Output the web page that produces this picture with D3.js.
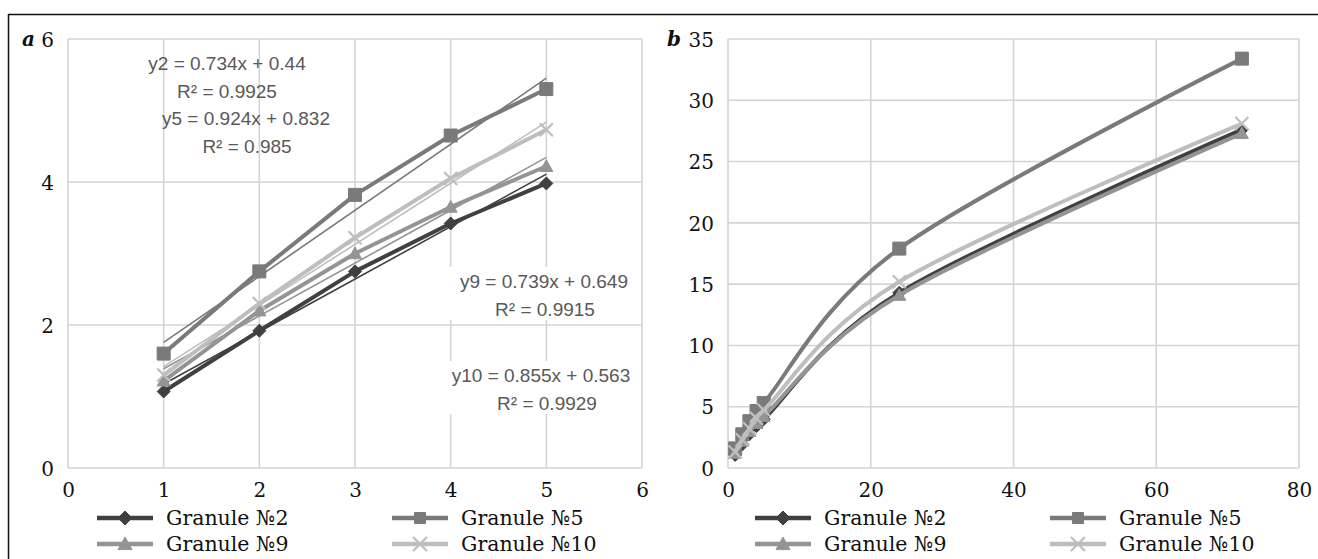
<!DOCTYPE html>
<html>
<head>
<meta charset="utf-8">
<script src="https://cdn.jsdelivr.net/npm/d3@7/dist/d3.min.js"></script>
<style>
body { margin: 0; background: #fff; }
svg { display: block; }
</style>
</head>
<body>
<div id="chart"></div>
<script>
// panel a: first five hours
var hoursA = [1, 2, 3, 4, 5];
var g2A = [1.07, 1.92, 2.75, 3.42, 3.98];
var g5A = [1.6, 2.75, 3.82, 4.65, 5.3];
var g9A = [1.22, 2.2, 3.0, 3.65, 4.22];
var g10A = [1.3, 2.3, 3.22, 4.05, 4.73];

// panel b: whole run
var hoursB = [1, 2, 3, 4, 5, 24, 72];
var g2B = [1.07, 1.92, 2.75, 3.42, 3.98, 14.3, 27.6];
var g5B = [1.6, 2.75, 3.82, 4.65, 5.3, 17.9, 33.4];
var g9B = [1.22, 2.2, 3.0, 3.65, 4.22, 14.1, 27.3];
var g10B = [1.3, 2.3, 3.22, 4.05, 4.73, 15.2, 28.1];

var seriesNames = ["Granule №2", "Granule №5", "Granule №9", "Granule №10"];
var seriesColors = ["#404040", "#7a7a7a", "#949494", "#bebebe"];
var seriesMarkers = ["diamond", "square", "triangle", "cross"];

// linear trend lines of panel a
var trendSlope = [0.734, 0.924, 0.739, 0.855];
var trendIntercept = [0.44, 0.832, 0.649, 0.563];
var trendEq = ["y2 = 0.734x + 0.44", "y5 = 0.924x + 0.832", "y9 = 0.739x + 0.649", "y10 = 0.855x + 0.563"];
var trendR2 = ["R² = 0.9925", "R² = 0.985", "R² = 0.9915", "R² = 0.9929"];

var ticksAx = [0, 1, 2, 3, 4, 5, 6];
var ticksAy = [0, 2, 4, 6];
var ticksBx = [0, 20, 40, 60, 80];
var ticksBy = [0, 5, 10, 15, 20, 25, 30, 35];

var W = 1318, H = 559;
var serif = "'DejaVu Serif', 'Liberation Serif', serif";
var svg = d3.select("#chart").append("svg")
    .attr("width", W)
    .attr("height", H);

// frame, only top and left edges show
svg.append("line").attr("x1", 8).attr("x2", W).attr("y1", 14.5).attr("y2", 14.5)
    .style("stroke", "#111").style("stroke-width", 1.5);
svg.append("line").attr("x1", 8.5).attr("x2", 8.5).attr("y1", 14).attr("y2", H)
    .style("stroke", "#111").style("stroke-width", 1.5);

function markerPath(type, s) {
    var h = s / 2;
    if (type == "diamond") return "M0," + (-h) + "L" + h + ",0L0," + h + "L" + (-h) + ",0Z";
    if (type == "square") return "M" + (-h) + "," + (-h) + "h" + s + "v" + s + "h" + (-s) + "Z";
    if (type == "triangle") return "M0," + (-h) + "L" + h + "," + (h * 0.8) + "L" + (-h) + "," + (h * 0.8) + "Z";
    return "M" + (-h) + "," + (-h) + "L" + h + "," + h + "M" + h + "," + (-h) + "L" + (-h) + "," + h;
}

function drawMarker(g, type, color, x, y, s) {
    var p = g.append("path")
        .attr("transform", "translate(" + x + "," + y + ")")
        .attr("d", markerPath(type, s));
    if (type == "cross") {
        p.style("fill", "none").style("stroke", color).style("stroke-width", 2.2);
    } else {
        p.style("fill", color).style("stroke", color).style("stroke-width", 1);
    }
}

function drawPanel(opt) {
    var x = d3.scaleLinear().domain(opt.xDomain).range([opt.left, opt.right]);
    var y = d3.scaleLinear().domain(opt.yDomain).range([opt.bottom, opt.top]);
    var g = svg.append("g");

    // grid
    g.selectAll(".vgrid").data(opt.xTicks).enter().append("line")
        .attr("x1", function(d) { return x(d); })
        .attr("x2", function(d) { return x(d); })
        .attr("y1", opt.top).attr("y2", opt.bottom)
        .style("stroke", "#d4d4d4").style("stroke-width", 1.6);
    g.selectAll(".hgrid").data(opt.yTicks).enter().append("line")
        .attr("x1", opt.left).attr("x2", opt.right)
        .attr("y1", function(d) { return y(d); })
        .attr("y2", function(d) { return y(d); })
        .style("stroke", "#d4d4d4").style("stroke-width", 1.6);

    // axes labels only
    var ax = g.append("g").attr("transform", "translate(0," + (opt.bottom + 12) + ")")
        .call(d3.axisBottom(x).tickValues(opt.xTicks).tickSize(0).tickFormat(d3.format("d")));
    var ay = g.append("g").attr("transform", "translate(" + (opt.left - 11) + ",0)")
        .call(d3.axisLeft(y).tickValues(opt.yTicks).tickSize(0).tickFormat(d3.format("d")));
    [ax, ay].forEach(function(a) {
        a.select(".domain").remove();
        a.selectAll("text").style("font-family", serif).style("font-size", "20px").style("fill", "#111");
    });
    ay.selectAll("text").attr("dy", "0.36em");

    // panel letter
    g.append("text").attr("x", opt.letterX).attr("y", opt.top + 7)
        .style("font-family", serif).style("font-weight", "bold").style("font-style", "italic")
        .style("font-size", "20px").style("fill", "#111").text(opt.letter);

    if (opt.trend) opt.trend(g, x, y);

    var lineGen = d3.line()
        .x(function(d) { return x(d[0]); })
        .y(function(d) { return y(d[1]); });
    if (opt.smooth) lineGen.curve(d3.curveCardinal.tension(0));

    opt.series.forEach(function(vals, i) {
        var pts = opt.xs.map(function(h, j) { return [h, vals[j]]; });
        g.append("path").datum(pts)
            .attr("d", lineGen)
            .style("fill", "none")
            .style("stroke", seriesColors[i])
            .style("stroke-width", 4)
            .style("stroke-linejoin", "round");
        pts.forEach(function(p) {
            drawMarker(g, seriesMarkers[i], seriesColors[i], x(p[0]), y(p[1]), 13);
        });
    });

    // legend 2 x 2
    seriesNames.forEach(function(name, i) {
        var col = i % 2, row = Math.floor(i / 2);
        var lx = opt.legendX[col], ly = 518 + row * 26;
        g.append("line").attr("x1", lx).attr("x2", lx + 56).attr("y1", ly).attr("y2", ly)
            .style("stroke", seriesColors[i]).style("stroke-width", 4.5);
        drawMarker(g, seriesMarkers[i], seriesColors[i], lx + 28, ly, seriesMarkers[i] == "square" ? 11 : 14);
        g.append("text").attr("x", lx + 69).attr("y", ly).attr("dy", "0.36em")
            .style("font-family", serif).style("font-size", "20.5px").style("fill", "#111")
            .text(name);
    });
}

// label placement for the trend equations (pixels): eq centre, r2 centre
var eqPos = [[227, 63, 227], [246, 118, 247], [544, 281, 545], [541, 375, 547]];

drawPanel({
    letter: "a", letterX: 22,
    left: 68, right: 642, top: 39, bottom: 468,
    xDomain: [0, 6], yDomain: [0, 6],
    xTicks: ticksAx, yTicks: ticksAy,
    xs: hoursA, series: [g2A, g5A, g9A, g10A],
    legendX: [97, 392],
    trend: function(g, x, y) {
        trendSlope.forEach(function(k, i) {
            g.append("line")
                .attr("x1", x(1)).attr("x2", x(5))
                .attr("y1", y(k * 1 + trendIntercept[i]))
                .attr("y2", y(k * 5 + trendIntercept[i]))
                .style("stroke", seriesColors[i]).style("stroke-width", 1.6);
        });
        trendEq.forEach(function(t, i) {
            var cx = eqPos[i][0], cy = eqPos[i][1];
            if (i >= 2) {
                g.append("rect").attr("x", 446).attr("y", cy - 14).attr("width", 194).attr("height", 53)
                    .style("fill", "#fff");
            }
            g.append("text").attr("x", cx).attr("y", cy).attr("dy", "0.35em")
                .attr("text-anchor", "middle")
                .style("font-family", "Liberation Sans").style("font-size", "19px").style("fill", "#595959")
                .text(t);
            g.append("text").attr("x", eqPos[i][2]).attr("y", cy + 28).attr("dy", "0.35em")
                .attr("text-anchor", "middle")
                .style("font-family", "Liberation Sans").style("font-size", "19px").style("fill", "#595959")
                .text(trendR2[i]);
        });
    }
});

drawPanel({
    letter: "b", letterX: 667,
    left: 728, right: 1299, top: 39, bottom: 468,
    xDomain: [0, 80], yDomain: [0, 35],
    xTicks: ticksBx, yTicks: ticksBy,
    xs: hoursB, series: [g2B, g5B, g9B, g10B],
    smooth: true,
    legendX: [755, 1050]
});
</script>
</body>
</html>
